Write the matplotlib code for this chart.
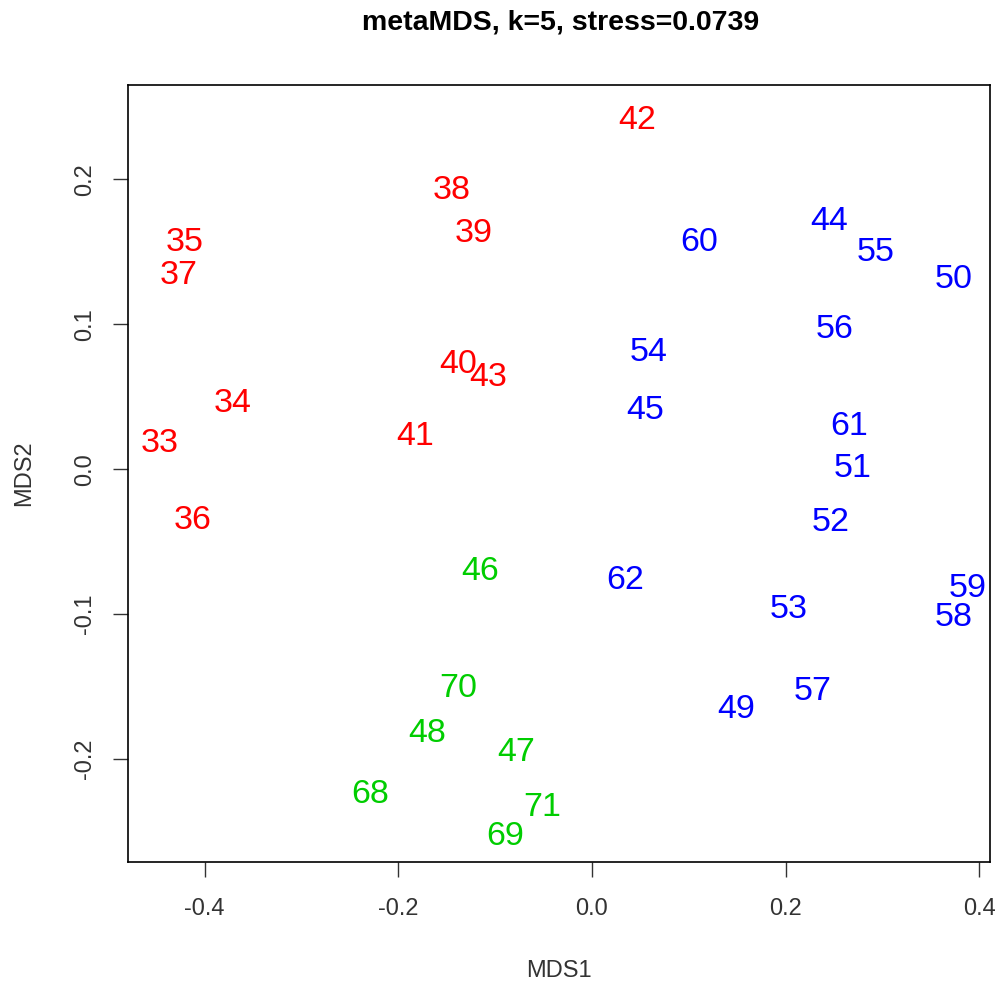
import matplotlib
matplotlib.use('Agg')
import matplotlib.pyplot as plt

# site labels and NMDS scores
red_labels = ['42', '38', '39', '35', '37', '40', '43', '34', '41', '33', '36']
red_x = [0.047, -0.145, -0.122, -0.420, -0.427, -0.138, -0.107, -0.371, -0.183, -0.446, -0.412]
red_y = [0.242, 0.194, 0.164, 0.158, 0.135, 0.074, 0.065, 0.047, 0.024, 0.019, -0.034]

blue_labels = ['60', '44', '55', '50', '56', '54', '45', '61', '51', '52', '62', '59', '58', '53', '57', '49']
blue_x = [0.111, 0.245, 0.293, 0.373, 0.251, 0.059, 0.055, 0.266, 0.269, 0.246, 0.034, 0.388, 0.373, 0.203, 0.228, 0.149]
blue_y = [0.158, 0.172, 0.151, 0.132, 0.098, 0.082, 0.042, 0.031, 0.002, -0.035, -0.075, -0.081, -0.101, -0.095, -0.152, -0.164]

green_labels = ['46', '70', '48', '47', '68', '71', '69']
green_x = [-0.115, -0.138, -0.170, -0.078, -0.229, -0.051, -0.090]
green_y = [-0.069, -0.150, -0.181, -0.194, -0.223, -0.232, -0.252]

groups = [(red_labels, red_x, red_y, '#FF0000'),
          (blue_labels, blue_x, blue_y, '#0000FF'),
          (green_labels, green_x, green_y, '#00CD00')]

plt.rcParams['font.family'] = ['Liberation Sans', 'DejaVu Sans']

fig = plt.figure(figsize=(10, 9.85), dpi=100)
ax = fig.add_axes([0.128, 0.1249, 0.862, 0.7888])

# text labels instead of points, like ordiplot(type="text")
for labels, xs, ys, col in groups:
    for lab, x, y in zip(labels, xs, ys):
        ax.text(x, y - 0.0015, lab, color=col, fontsize=24.5, ha='center', va='center')

ax.set_xlim(-0.479, 0.411)
ax.set_ylim(-0.271, 0.265)
ax.set_xticks([-0.4, -0.2, 0.0, 0.2, 0.4])
ax.set_xticklabels(['-0.4', '-0.2', '0.0', '0.2', '0.4'])
ax.set_yticks([-0.2, -0.1, 0.0, 0.1, 0.2])
ax.set_yticklabels(['-0.2', '-0.1', '0.0', '0.1', '0.2'], rotation=90, va='center')
ax.tick_params(labelsize=17, length=11, width=1, colors='#333333', pad=15)
ax.tick_params(axis='y', pad=12)
for s in ax.spines.values():
    s.set_linewidth(1.2)

ax.set_xlabel('MDS1', fontsize=17, color='#333333', labelpad=29)
ax.set_ylabel('MDS2', fontsize=17, color='#333333', labelpad=28)
fig.text(0.561, 1 - 23 / 985, 'metaMDS, k=5, stress=0.0739', fontsize=20.5,
         fontweight='bold', ha='center', va='center')

fig.savefig('out.png', dpi=100)
